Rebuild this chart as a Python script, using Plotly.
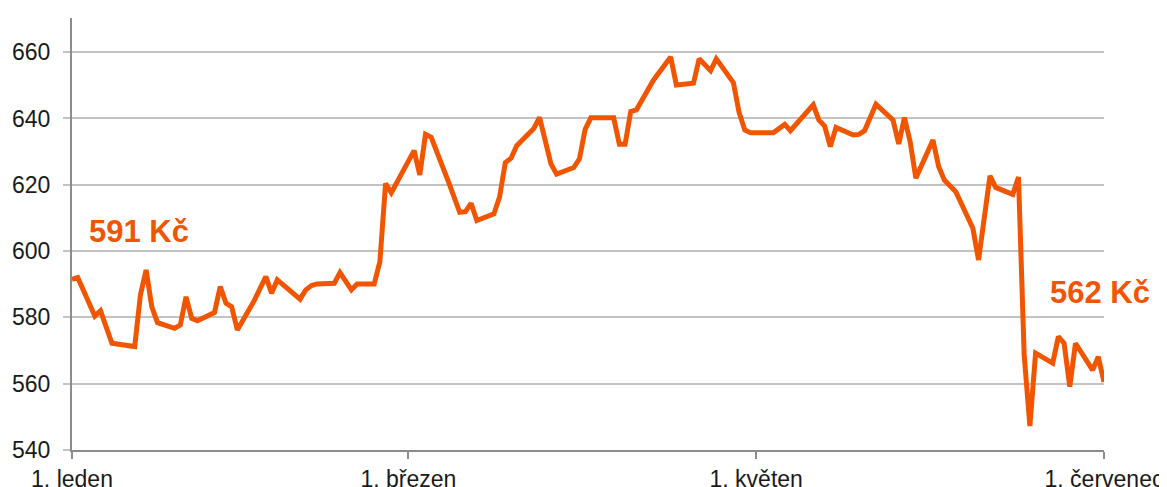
import pandas as pd
import plotly.graph_objects as go

# price series, day offset from 1 January (non-leap year)
day = [0, 1, 4, 5, 7, 11, 12, 13, 14, 15, 18, 19, 20, 21, 22, 25, 26, 27, 28, 29,
       32, 34, 35, 36, 40, 41, 42, 43, 46, 47, 49, 50, 53, 54, 55, 56, 60, 61, 62, 63,
       66, 68, 69, 70, 71, 74, 75, 76, 77, 78, 81, 82, 84, 85, 88, 89, 90, 91, 95, 96,
       97, 98, 99, 102, 105, 106, 109, 110, 112, 113, 116, 117, 118, 119, 123, 125, 126, 130, 131, 132,
       133, 134, 137, 138, 139, 141, 144, 145, 146, 147, 148, 151, 152, 153, 155, 158, 159, 161, 162, 165,
       166, 167, 168, 169, 172, 173, 174, 175, 176, 179, 180, 181]
price = [591.5, 592.0, 580.4, 582.0, 572.2, 571.2, 586.8, 594.3, 583.2, 578.4, 576.7, 577.7, 586.2, 579.7, 579.0, 581.5, 589.3, 584.3, 583.2, 576.2,
         585.2, 592.3, 587.3, 591.3, 585.5, 588.3, 589.6, 590.1, 590.3, 593.5, 588.3, 590.1, 590.1, 596.8, 620.4, 617.6, 630.3, 623.0, 635.2, 634.3,
         621.0, 611.7, 611.9, 614.4, 609.2, 611.2, 616.4, 626.7, 628.0, 631.8, 637.0, 640.3, 626.3, 623.2, 625.2, 627.8, 636.7, 640.2, 640.2, 632.2,
         632.2, 642.1, 642.6, 651.6, 658.5, 650.1, 650.6, 658.0, 654.4, 658.0, 650.8, 641.8, 636.5, 635.7, 635.7, 638.2, 636.3, 644.1, 639.5, 637.7,
         631.5, 637.3, 635.0, 635.2, 636.3, 644.3, 639.5, 632.3, 640.3, 633.0, 622.0, 633.5, 625.5, 621.4, 617.9, 606.9, 597.3, 622.7, 619.2, 617.1,
         622.3, 568.7, 547.2, 569.2, 566.2, 574.2, 572.2, 559.1, 572.2, 564.1, 568.1, 560.5]

tick_dates = ["2019-01-01", "2019-03-01", "2019-05-01", "2019-07-01"]
tick_labels = ["1. leden", "1. březen", "1. květen", "1. červenec"]

dates = pd.Timestamp("2019-01-01") + pd.to_timedelta(day, unit="D")

orange = "#F25500"

fig = go.Figure()
fig.add_trace(go.Scatter(x=dates, y=price, mode="lines",
                         line=dict(color=orange, width=5), hoverinfo="x+y"))

fig.add_annotation(x="2019-01-03 15:00", y=605.8, text="<b>591 Kč</b>", showarrow=False,
                   xanchor="left", yanchor="middle", font=dict(size=31, color=orange))
fig.add_annotation(x="2019-06-21 05:00", y=587.4, text="<b>562 Kč</b>", showarrow=False,
                   xanchor="left", yanchor="middle", font=dict(size=31, color=orange))

fig.update_xaxes(range=["2019-01-01", "2019-07-01"], tickvals=tick_dates, ticktext=tick_labels,
                 showgrid=False, showline=True, linecolor="#8C8C8C", linewidth=2,
                 ticks="outside", ticklen=7, tickwidth=2, tickcolor="#8C8C8C",
                 tickfont=dict(size=23, color="#1A1A1A"), zeroline=False, automargin=False)
fig.update_yaxes(range=[540, 670.3], tickvals=[540, 560, 580, 600, 620, 640, 660],
                 showgrid=True, gridcolor="#C3C3C3", gridwidth=2,
                 showline=True, linecolor="#8C8C8C", linewidth=2,
                 ticks="outside", ticklen=7, tickwidth=2, tickcolor="#C3C3C3",
                 ticklabelstandoff=8,
                 tickfont=dict(size=23, color="#1A1A1A"), zeroline=False, automargin=False)

# page body has an 8px margin, so the plot area is placed 8px up/left of the target
fig.update_layout(width=1167, height=487, showlegend=False,
                  plot_bgcolor="white", paper_bgcolor="white",
                  font=dict(family="Liberation Sans, Arial, sans-serif"),
                  margin=dict(l=64, r=71, t=10, b=45))

fig.write_html("out.html")
